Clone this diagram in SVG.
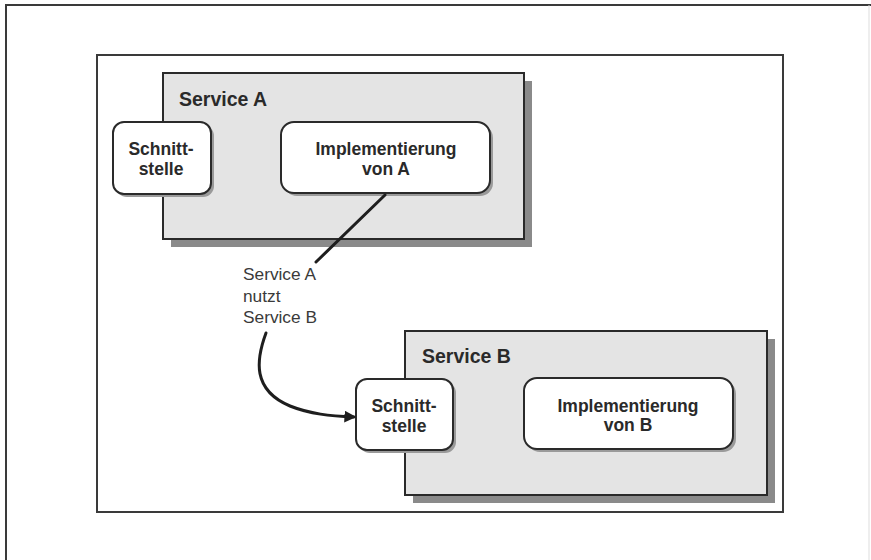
<svg xmlns="http://www.w3.org/2000/svg" width="871" height="560" viewBox="0 0 871 560">
<defs>
<style>
.frame{fill:none;stroke:#3a3a3a;stroke-width:2}
.svc{fill:#e4e4e4;stroke:#2a2a2a;stroke-width:2}
.shadow{fill:#8a8a8a}
.box{fill:#ffffff;stroke:#2a2a2a;stroke-width:2}
.bshadow{fill:#9a9a9a}
.title{font-family:"Liberation Sans",Arial,sans-serif;font-weight:bold;font-size:19.5px;fill:#2a2a2a}
.lbl{font-family:"Liberation Sans",Arial,sans-serif;font-weight:bold;font-size:17.5px;fill:#2a2a2a;text-anchor:middle}
.note{font-family:"Liberation Sans",Arial,sans-serif;font-size:17.3px;fill:#3a3a3a}
.conn{fill:none;stroke:#1e1e1e;stroke-width:3;stroke-linecap:round}
</style>
<marker id="arr" viewBox="0 0 10 10" refX="8" refY="5" markerWidth="4" markerHeight="4" orient="auto" markerUnits="strokeWidth">
<path d="M0,0 L10,5 L0,10 z" fill="#1e1e1e"/>
</marker>
</defs>
<rect width="871" height="560" fill="#ffffff"/>
<g id="outer-frame">
<path d="M6,560 L6,5 L871,5" class="frame" stroke-width="2.5"/>
<line x1="869" y1="5" x2="869" y2="560" stroke="#dddddd" stroke-width="1"/>
</g>
<g id="inner-frame">
<rect x="97" y="55" width="686" height="457" class="frame"/>
</g>
<g id="service-a">
<rect x="171" y="81" width="361" height="166" class="shadow"/>
<rect x="163" y="73" width="361" height="166" class="svc"/>
<text x="179" y="106" class="title">Service A</text>
</g>
<g id="schnittstelle-a">
<rect x="116" y="125" width="98" height="72" rx="11" class="bshadow"/>
<rect x="113" y="122" width="98" height="72" rx="11" class="box"/>
<text x="161" y="155" class="lbl">Schnitt-</text>
<text x="161" y="175" class="lbl">stelle</text>
</g>
<g id="impl-a">
<rect x="284" y="125" width="209" height="71" rx="13" class="bshadow"/>
<rect x="281" y="122" width="209" height="71" rx="13" class="box"/>
<text x="386" y="155" class="lbl">Implementierung</text>
<text x="386" y="175" class="lbl">von A</text>
</g>
<g id="service-b">
<rect x="413" y="339" width="362" height="164" class="shadow"/>
<rect x="405" y="331" width="362" height="164" class="svc"/>
<text x="422" y="363" class="title">Service B</text>
</g>
<g id="schnittstelle-b">
<rect x="359" y="382" width="97" height="71" rx="11" class="bshadow"/>
<rect x="356" y="379" width="97" height="71" rx="11" class="box"/>
<text x="404" y="412" class="lbl">Schnitt-</text>
<text x="404" y="432" class="lbl">stelle</text>
</g>
<g id="impl-b">
<rect x="527" y="381" width="209" height="71" rx="13" class="bshadow"/>
<rect x="524" y="378" width="209" height="71" rx="13" class="box"/>
<text x="628" y="412" class="lbl">Implementierung</text>
<text x="628" y="431" class="lbl">von B</text>
</g>
<g id="connectors">
<line x1="385" y1="195" x2="316" y2="262" class="conn"/>
<path d="M266,333 C256,360 252,390 290,406 C310,414 330,416 354,417" class="conn" marker-end="url(#arr)"/>
</g>
<g id="label">
<text x="243" y="280" class="note">Service A</text>
<text x="243" y="302" class="note">nutzt</text>
<text x="243" y="323" class="note">Service B</text>
</g>
</svg>
